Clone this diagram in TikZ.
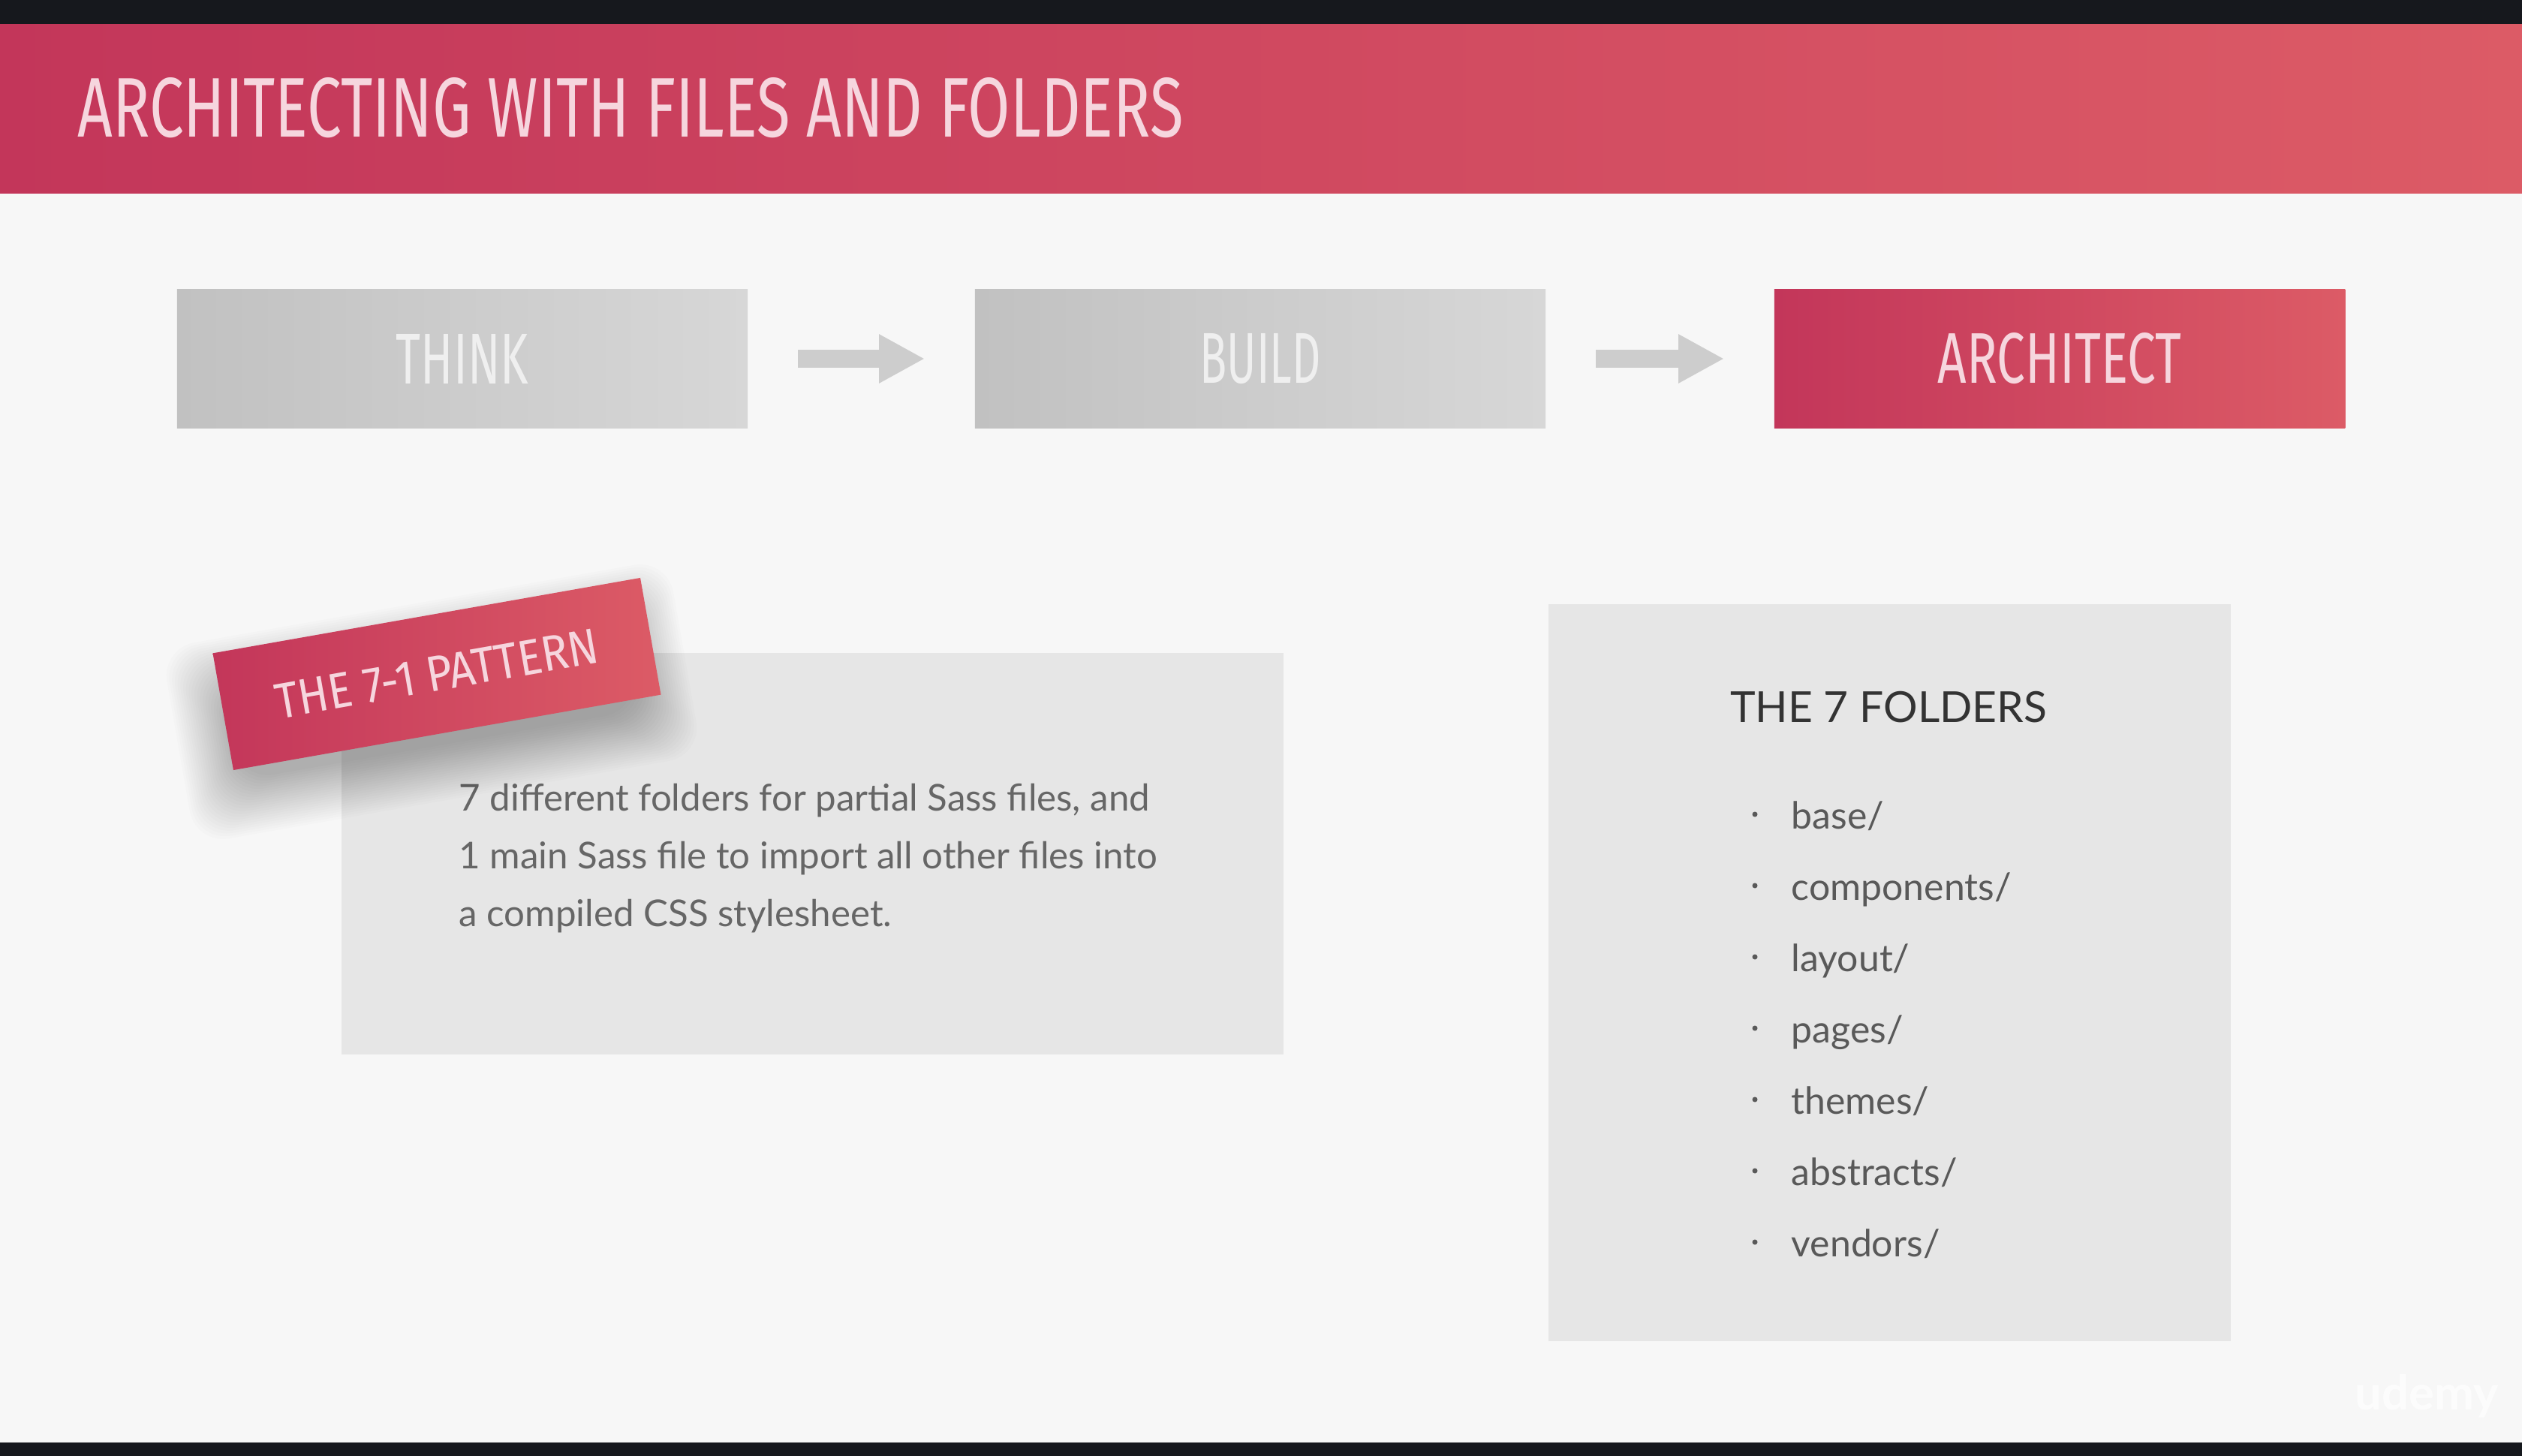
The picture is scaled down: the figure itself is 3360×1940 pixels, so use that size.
\documentclass[tikz,border=0pt]{standalone}
\usepackage{fontspec}
\usepackage{graphicx}
\setmainfont{Lato}
\newfontfamily\dispfont{Fira Sans}
\usetikzlibrary{arrows.meta}

\definecolor{pagebg}{HTML}{F7F7F7}
\definecolor{barblack}{HTML}{16181D}
\definecolor{redL}{HTML}{C3365A}
\definecolor{redR}{HTML}{DC5B66}
\definecolor{grayL}{HTML}{C1C1C1}
\definecolor{grayR}{HTML}{D7D7D7}
\definecolor{panel}{HTML}{E6E6E6}
\definecolor{arrowgray}{HTML}{CDCDCD}
\definecolor{inkpink}{HTML}{F6D6DE}
\definecolor{inkgray}{HTML}{EFEFEF}
\definecolor{bodytext}{HTML}{666666}
\definecolor{listtext}{HTML}{595959}
\definecolor{headtext}{HTML}{333333}

\begin{document}
\begin{tikzpicture}[x=0.01cm, y=-0.01cm,
  stepbox/.style={rectangle, inner sep=0, minimum width=7.6cm, minimum height=1.85cm},
  graystep/.style={stepbox, left color=grayL, right color=grayR, text=inkgray},
  redstep/.style={stepbox, left color=redL, right color=redR, text=inkpink},
  flowarrow/.style={draw=arrowgray, line width=0.23cm, -{Triangle[length=0.61cm, width=0.61cm]}},
  panelbox/.style={rectangle, fill=panel, inner sep=0, anchor=north west},
  tagbox/.style={rectangle, inner sep=0, minimum width=5.78cm, minimum height=1.58cm,
    left color=redL, right color=redR, text=inkpink},
  bodyline/.style={anchor=base west, inner sep=0, text=bodytext,
    font=\fontsize{14pt}{16pt}\selectfont},
  listitem/.style={anchor=base west, inner sep=0, text=listtext,
    font=\fontsize{14.2pt}{16pt}\selectfont},
  bulletdot/.style={circle, fill=listtext, inner sep=0, minimum size=0.07cm},
]
\useasboundingbox (0,0) rectangle (3360,1940);
\fill[pagebg] (0,0) rectangle (3360,1940);

% header band and title
\shade[left color=redL, right color=redR] (0,32) rectangle (3360,258);
\node[anchor=west, inner sep=0, text=inkpink] (title) at (103,144)
  {\resizebox{14.72cm}{0.79cm}{\dispfont ARCHITECTING WITH FILES AND FOLDERS}};

% top and bottom frame bars
\fill[barblack] (0,0) rectangle (3360,32);
\fill[barblack] (0,1922) rectangle (3360,1940);

% think -> build -> architect
\node[graystep] (think) at (616,478) {\resizebox{1.76cm}{0.66cm}{\dispfont THINK}};
\node[graystep] (build) at (1679,478) {\resizebox{1.61cm}{0.66cm}{\dispfont BUILD}};
\node[redstep] (architect) at (2744,478) {\resizebox{3.24cm}{0.67cm}{\dispfont ARCHITECT}};
\draw[flowarrow] ([xshift=0.66cm]think.east) -- ([xshift=-0.66cm]build.west);
\draw[flowarrow] ([xshift=0.66cm]build.east) -- ([xshift=-0.66cm]architect.west);

% 7-1 pattern card
\node[panelbox, minimum width=12.55cm, minimum height=5.35cm] (card) at (454,869) {};
\node[bodyline] (line1) at (611,1080) {7 different folders for partial Sass files, and};
\node[bodyline] (line2) at (611,1157) {1 main Sass file to import all other files into};
\node[bodyline] (line3) at (611,1234) {a compiled CSS stylesheet.};

% soft shadow under the tilted label
\begin{scope}[shift={(575,935)}, rotate=10]
  \foreach \i in {0,...,23}{
    \pgfmathsetmacro\s{\i*3.2-20}
    \fill[black, opacity=0.013, rounded corners=0.45cm]
      ({-289-\s}, {-79-\s}) rectangle ({289+\s}, {79+\s});
  }
\end{scope}
\node[tagbox, rotate=10] (tag) at (582,898)
  {\resizebox{4.36cm}{0.46cm}{\dispfont THE 7-1 PATTERN}};

% the 7 folders panel
\node[panelbox, minimum width=9.09cm, minimum height=9.82cm] (folders) at (2062,804) {};
\node[anchor=base, inner sep=0, text=headtext, font=\fontsize{16.2pt}{18pt}\selectfont]
  (fhead) at (2516,962) {THE 7 FOLDERS};
\foreach \name [count=\i from 0] in {base/,components/,layout/,pages/,themes/,abstracts/,vendors/}{
  \pgfmathsetmacro\yy{1104+95*\i}
  \node[listitem] (item\i) at (2386,\yy) {\name};
  \node[bulletdot] (dot\i) at (2338,\yy-19) {};
}

% watermark
\node[anchor=base west, inner sep=0, text=white, opacity=0.7,
  font=\fontsize{18pt}{20pt}\selectfont\bfseries] (mark) at (3137,1878) {udemy};
\end{tikzpicture}
\end{document}
